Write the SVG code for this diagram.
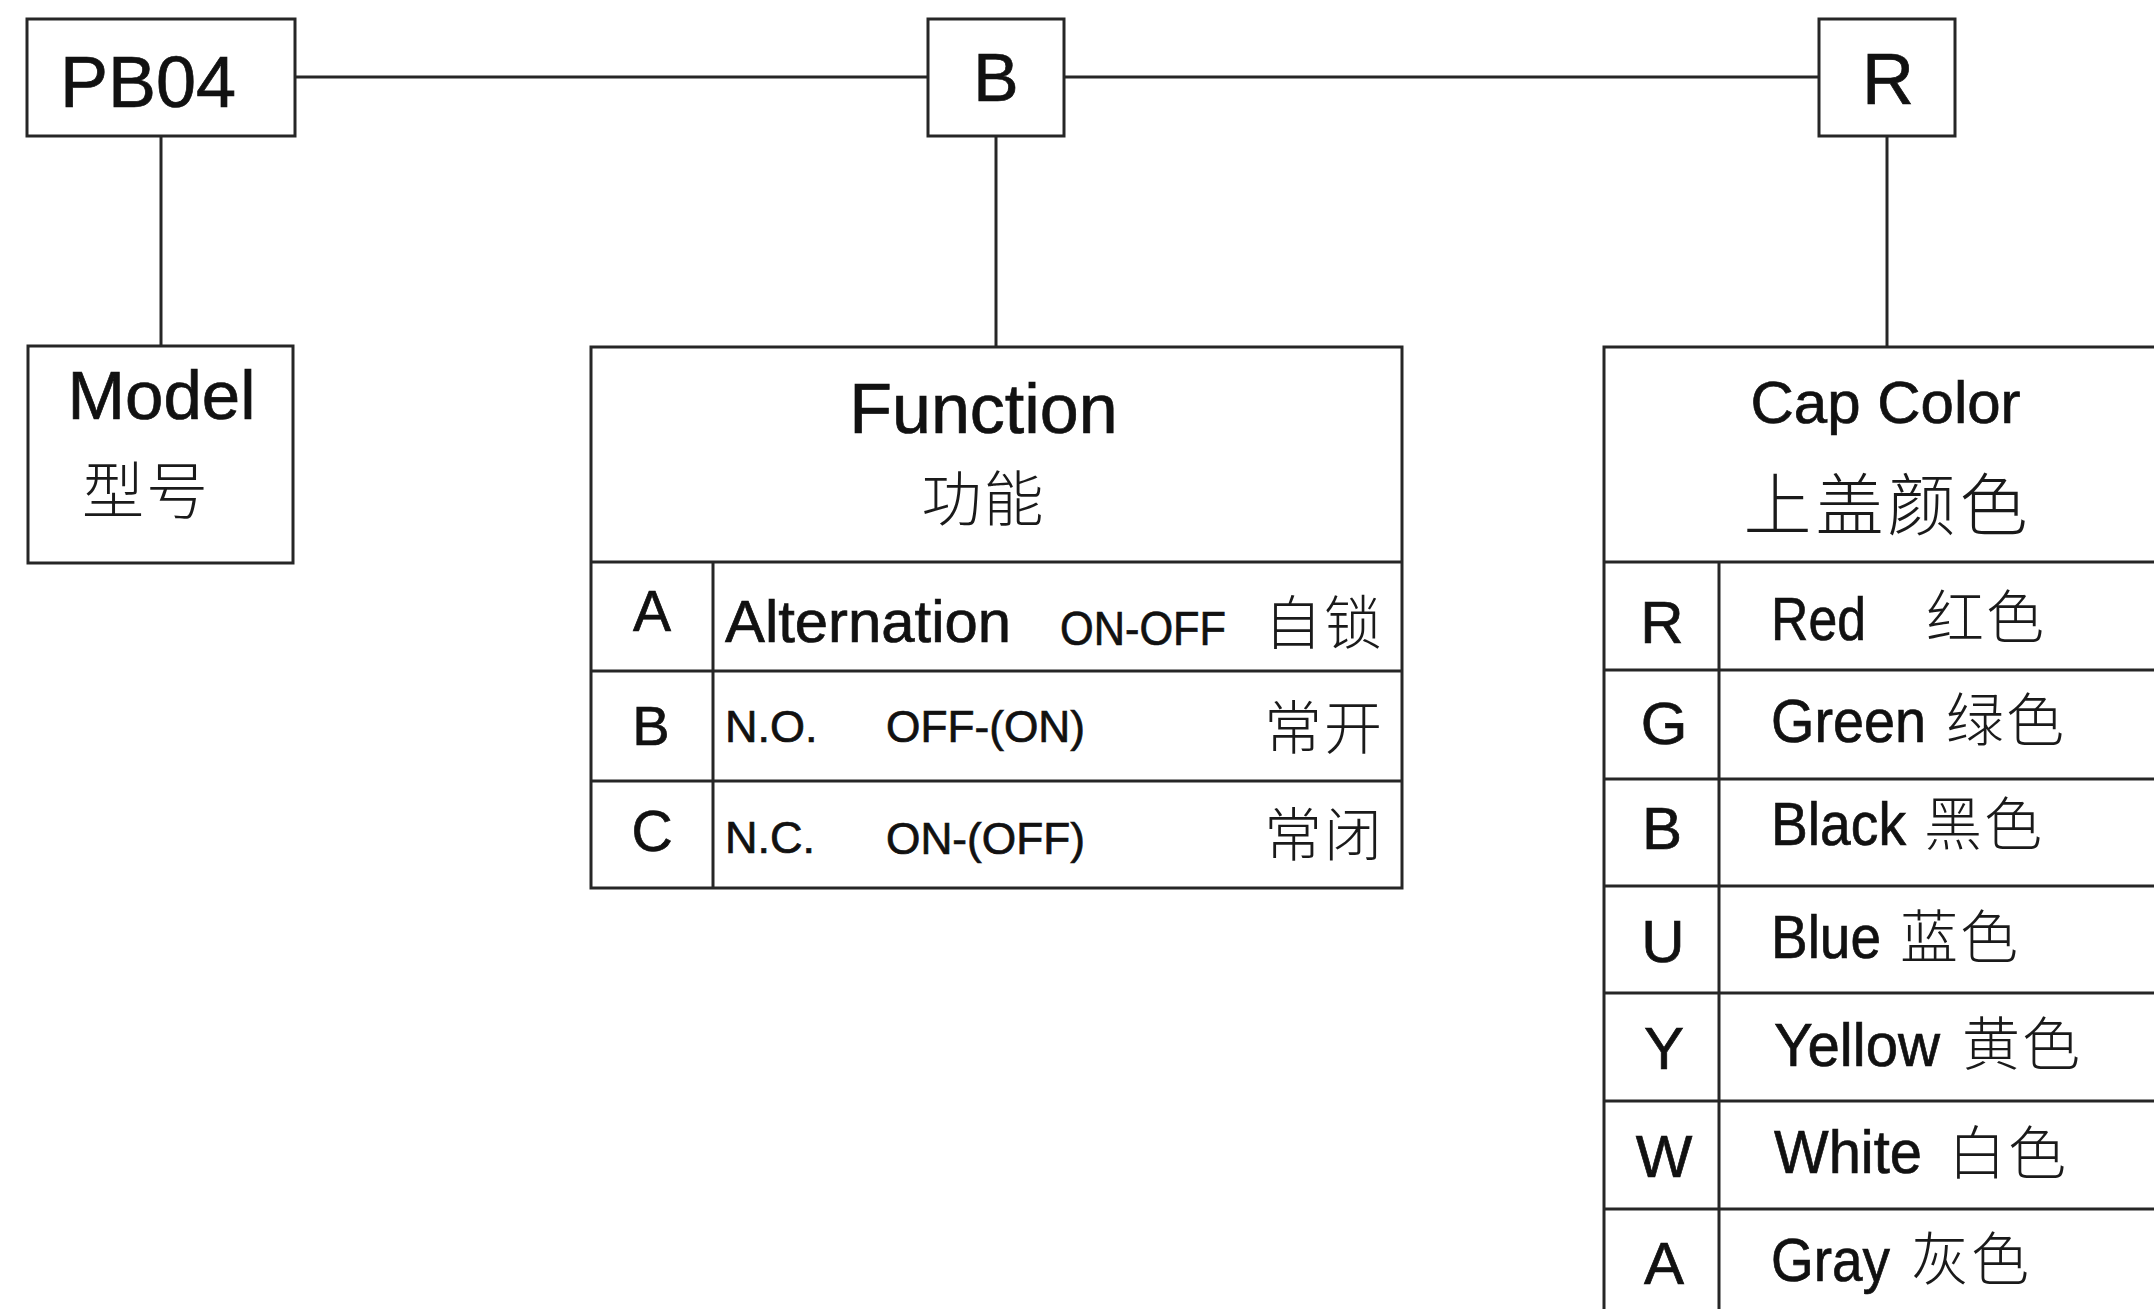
<svg xmlns="http://www.w3.org/2000/svg" width="2154" height="1309" viewBox="0 0 2154 1309">
<style>
.ln{stroke:#262626;stroke-width:3;fill:none}
.bx{stroke:#262626;stroke-width:3;fill:#fff}
.t{font-family:"Liberation Sans",Arial,sans-serif;fill:#111;stroke:#111;stroke-width:0.7}
.c{font-family:"Noto Sans CJK SC",sans-serif;font-weight:300;fill:#1a1a1a}
.m{text-anchor:middle}
</style>
<rect width="2154" height="1309" fill="#fff"/>
<g id="connectors">
<line class="ln" x1="295" y1="77" x2="928" y2="77"/>
<line class="ln" x1="1064" y1="77" x2="1819" y2="77"/>
<line class="ln" x1="161" y1="136" x2="161" y2="346"/>
<line class="ln" x1="996" y1="136" x2="996" y2="347"/>
<line class="ln" x1="1887" y1="136" x2="1887" y2="347"/>
</g>
<g id="node-pb04">
<rect class="bx" x="27" y="19" width="268" height="117"/>
<text class="t m" x="148" y="107" font-size="72">PB04</text>
</g>
<g id="node-b">
<rect class="bx" x="928" y="19" width="136" height="117"/>
<text class="t m" x="996" y="101" font-size="68">B</text>
</g>
<g id="node-r">
<rect class="bx" x="1819" y="19" width="136" height="117"/>
<text class="t m" x="1888" y="104" font-size="72">R</text>
</g>
<g id="node-model">
<rect class="bx" x="28" y="346" width="265" height="217"/>
<text class="t m" x="161.5" y="419" font-size="69">Model</text>
<text class="c m" x="146" y="514" font-size="62" letter-spacing="2">型号</text>
</g>
<g id="node-function">
<rect class="bx" x="591" y="347" width="811" height="541"/>
<line class="ln" x1="591" y1="562" x2="1402" y2="562"/>
<line class="ln" x1="591" y1="671" x2="1402" y2="671"/>
<line class="ln" x1="591" y1="781" x2="1402" y2="781"/>
<line class="ln" x1="713" y1="562" x2="713" y2="888"/>
<text class="t m" x="983.5" y="433" font-size="70">Function</text>
<text class="c m" x="983.5" y="521" font-size="60" letter-spacing="2">功能</text>
<text class="t m" x="652" y="631" font-size="57">A</text>
<text class="t" x="725" y="642" font-size="60" textLength="286" lengthAdjust="spacingAndGlyphs">Alternation</text>
<text class="t" x="1060" y="645" font-size="48" textLength="166" lengthAdjust="spacingAndGlyphs">ON-OFF</text>
<text class="c" x="1264" y="644" font-size="58" letter-spacing="2">自锁</text>
<text class="t m" x="651" y="745" font-size="56">B</text>
<text class="t" x="725" y="742" font-size="45">N.O.</text>
<text class="t" x="886" y="742" font-size="45" textLength="199" lengthAdjust="spacingAndGlyphs">OFF-(ON)</text>
<text class="c" x="1264" y="749" font-size="58" letter-spacing="2">常开</text>
<text class="t m" x="652" y="851" font-size="57">C</text>
<text class="t" x="725" y="853" font-size="45">N.C.</text>
<text class="t" x="886" y="854" font-size="45" textLength="199" lengthAdjust="spacingAndGlyphs">ON-(OFF)</text>
<text class="c" x="1264" y="856" font-size="58" letter-spacing="2">常闭</text>
</g>
<g id="node-capcolor">
<rect class="bx" x="1604" y="347" width="620" height="1000"/>
<line class="ln" x1="1604" y1="562" x2="2160" y2="562"/>
<line class="ln" x1="1604" y1="670" x2="2160" y2="670"/>
<line class="ln" x1="1604" y1="779" x2="2160" y2="779"/>
<line class="ln" x1="1604" y1="886" x2="2160" y2="886"/>
<line class="ln" x1="1604" y1="993" x2="2160" y2="993"/>
<line class="ln" x1="1604" y1="1101" x2="2160" y2="1101"/>
<line class="ln" x1="1604" y1="1209" x2="2160" y2="1209"/>
<line class="ln" x1="1719" y1="562" x2="1719" y2="1320"/>
<text class="t m" x="1885.5" y="423" font-size="60">Cap Color</text>
<text class="c m" x="1887.5" y="530" font-size="68" letter-spacing="4">上盖颜色</text>
<text class="t m" x="1662" y="643" font-size="60">R</text>
<text class="t m" x="1664" y="744" font-size="60">G</text>
<text class="t m" x="1662" y="849" font-size="60">B</text>
<text class="t m" x="1663" y="962" font-size="60">U</text>
<text class="t m" x="1664" y="1069" font-size="60">Y</text>
<text class="t m" x="1664" y="1177" font-size="60">W</text>
<text class="t m" x="1664" y="1284" font-size="60">A</text>
<text class="t" x="1771" y="640" font-size="62" textLength="95" lengthAdjust="spacingAndGlyphs">Red</text>
<text class="t" x="1771" y="742" font-size="62" textLength="155" lengthAdjust="spacingAndGlyphs">Green</text>
<text class="t" x="1771" y="845" font-size="62" textLength="135" lengthAdjust="spacingAndGlyphs">Black</text>
<text class="t" x="1771" y="958" font-size="62" textLength="110" lengthAdjust="spacingAndGlyphs">Blue</text>
<text class="t" x="1774" y="1066" font-size="62" textLength="166" lengthAdjust="spacingAndGlyphs">Yellow</text>
<text class="t" x="1774" y="1173" font-size="62" textLength="148" lengthAdjust="spacingAndGlyphs">White</text>
<text class="t" x="1771" y="1281" font-size="62" textLength="119" lengthAdjust="spacingAndGlyphs">Gray</text>
<text class="c" x="1926" y="638" font-size="58" letter-spacing="2">红色</text>
<text class="c" x="1946" y="741" font-size="58" letter-spacing="2">绿色</text>
<text class="c" x="1924" y="845" font-size="58" letter-spacing="2">黑色</text>
<text class="c" x="1900" y="958" font-size="58" letter-spacing="2">蓝色</text>
<text class="c" x="1962" y="1065" font-size="58" letter-spacing="2">黄色</text>
<text class="c" x="1948" y="1174" font-size="58" letter-spacing="2">白色</text>
<text class="c" x="1911" y="1280" font-size="58" letter-spacing="2">灰色</text>
</g>
</svg>
